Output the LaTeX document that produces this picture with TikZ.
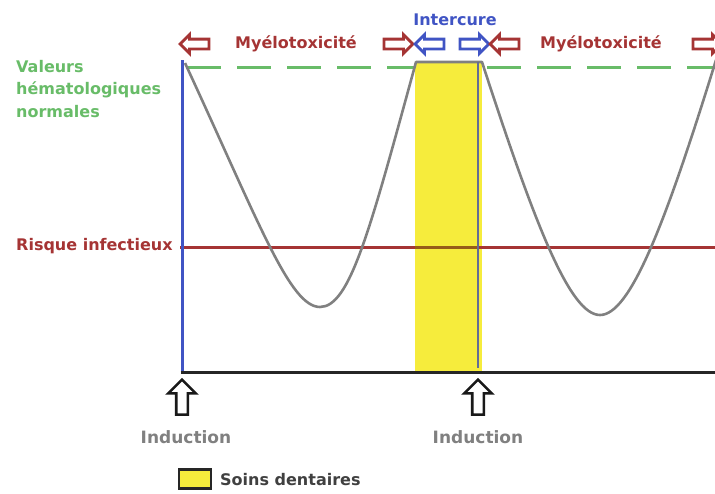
\documentclass[tikz,border=0pt]{standalone}
\usepackage{fontspec}
\setmainfont{DejaVu Sans}
\usetikzlibrary{shapes.arrows}
\definecolor{chred}{RGB}{165,52,52}
\definecolor{chblue}{RGB}{64,84,196}
\definecolor{chgreen}{RGB}{104,188,104}
\definecolor{chgray}{RGB}{128,128,128}
\definecolor{chslate}{RGB}{100,108,150}
\definecolor{chyellow}{RGB}{246,236,60}
\definecolor{chbrown}{RGB}{150,92,24}

\begin{document}
\begin{tikzpicture}[x=1pt, y=-1pt,
  lbl/.style={font=\fontsize{16}{22.5}\selectfont\bfseries, inner sep=0pt},
  toparrow/.style={single arrow, draw=#1, fill=white, line width=2.8pt,
    minimum height=29pt, inner sep=3.5pt, single arrow head extend=4.5pt},
  indarrow/.style={single arrow, draw=black!90, fill=white, line width=2.6pt,
    shape border rotate=90, minimum height=35pt, inner sep=4.5pt,
    single arrow head extend=8pt}]
% Frame
\path[use as bounding box, clip] (0,0) rectangle (715,493);

% Normal values
\draw[chgreen, line width=3pt, dash pattern=on 34pt off 16pt] (187,67) -- (715,67);

% Dental care window
\fill[chyellow] (415,62) rectangle (482,372);

% Infection risk
\draw[chred, line width=3pt] (180,247) -- (715,247);
\draw[chbrown, line width=3pt] (415,247) -- (478,247);

% Blood counts
\draw[chgray, line width=2.6pt, line join=round]
  (185,63) .. controls (260,225) and (290,307) .. (320,307)
  .. controls (350,307) and (370,230) .. (416,62) -- (482,62)
  .. controls (535,225) and (570,315) .. (600,315)
  .. controls (630,315) and (665,225) .. (716,60);

% Axes
\draw[chblue, line width=3pt] (182,60) -- (182,372);
\draw[chslate, line width=2.5pt] (478,62) -- (478,368);
\draw[black!85, line width=3pt] (180.5,372) -- (715,372);

% Left labels
\node[lbl, text=chgreen, anchor=north west, align=left] (normal) at (16,60)
  {Valeurs\\hématologiques\\normales};
\node[lbl, text=chred, anchor=west] (risk) at (16,246) {Risque infectieux};

% Top row
\node[toparrow=chred, shape border rotate=180] (myeLa) at (197,44) {};
\node[lbl, text=chred] (myeA) at (296,44) {Myélotoxicité};
\node[toparrow=chred] (myeRa) at (396,44) {};
\node[toparrow=chblue, shape border rotate=180] (interL) at (432,44) {};
\node[toparrow=chblue] (interR) at (472,44) {};
\node[lbl, text=chblue] (inter) at (455,20) {Intercure};
\node[toparrow=chred, shape border rotate=180] (myeLb) at (507,44) {};
\node[lbl, text=chred] (myeB) at (601,44) {Myélotoxicité};
\node[toparrow=chred] (myeRb) at (705,44) {};

% Induction
\node[indarrow] (indA) at (182,400) {};
\node[lbl, font=\fontsize{17}{20}\selectfont\bfseries, text=chgray] (indAtxt) at (186,437) {Induction};
\node[indarrow] (indB) at (478,400) {};
\node[lbl, font=\fontsize{17}{20}\selectfont\bfseries, text=chgray] (indBtxt) at (478,437) {Induction};

% Legend
\node[draw=black!85, line width=2.5pt, fill=chyellow, minimum width=32pt,
  minimum height=19pt, inner sep=0pt] (key) at (195,479) {};
\node[lbl, text=black!75, anchor=west] (keytxt) at (220,480) {Soins dentaires};
\end{tikzpicture}
\end{document}
